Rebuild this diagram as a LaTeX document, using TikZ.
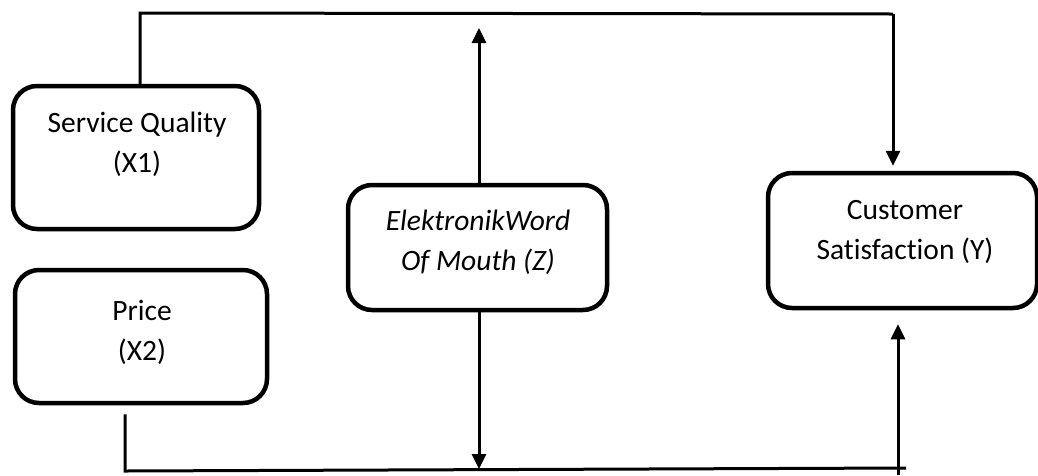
\documentclass[tikz,border=0pt]{standalone}
\usepackage{fontspec}
\setmainfont[Ligatures=NoCommon]{Carlito}
\usetikzlibrary{arrows.meta}
\begin{document}
\begin{tikzpicture}[x=1pt,y=-1pt,
  varbox/.style={draw, line width=4.5pt, rounded corners=24pt, fill=white, inner sep=0pt},
  lbl/.style={align=center, font=\fontsize{29.5}{40}\selectfont, inner sep=0pt},
  conn/.style={line width=3pt},
  arr/.style={conn, -{Triangle[length=15pt,width=14pt]}}]
\useasboundingbox (0,0) rectangle (1038,475);

% variable boxes
\node[varbox, minimum width=246pt, minimum height=143pt] (x1) at (136,157.5) {};
\node[lbl] (x1t) at (137,144) {Service Quality\\(X1)};

\node[varbox, minimum width=252pt, minimum height=133pt] (x2) at (141,336.5) {};
\node[lbl] (x2t) at (142,332) {Price\\(X2)};

\node[varbox, minimum width=259pt, minimum height=125pt] (z) at (477.5,247.5) {};
\node[lbl] (zt) at (478,242) {\itshape ElektronikWord\\\itshape Of Mouth (Z)};

\node[varbox, minimum width=269pt, minimum height=135pt] (y) at (902.5,240.5) {};
\node[lbl] (yt) at (905,232) {Customer\\Satisfaction (Y)};

% corner points of the connecting lines
\coordinate (tl) at (140,13);
\coordinate (tr) at (893,14);
\coordinate (ztop) at (479,28);
\coordinate (zbot) at (479,469);
\coordinate (bl) at (125,471);
\coordinate (br) at (906,468);
\coordinate (yin) at (898,475);

% X1 -> Y along the top
\draw[conn] (tl |- x1.north) -- (tl) -- (tr);
\draw[arr, shorten >=5pt] (tr) -- (tr |- y.north);

% Z to the top and bottom lines
\draw[arr] (ztop |- z.north) -- (ztop);
\draw[arr] (zbot |- z.south) -- (zbot);

% X2 -> Y along the bottom
\draw[conn, shorten <=9pt] (bl |- x2.south) -- (bl) -- (br);
\draw[arr, shorten >=14pt] (yin) -- (yin |- y.south);
\end{tikzpicture}
\end{document}
